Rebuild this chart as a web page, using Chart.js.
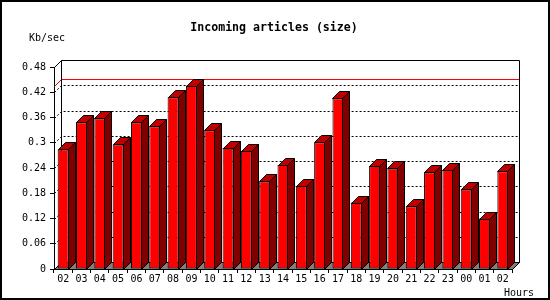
<!DOCTYPE html>
<html>
<head>
<meta charset="utf-8">
<script src="https://cdn.jsdelivr.net/npm/chart.js"></script>
<style>
  body { margin: 0; background: #fff; }
  canvas { display: block; }
</style>
</head>
<body>
<canvas id="chart" width="550" height="300"></canvas>
<script>
// hours on the x axis (02 .. 02, 25 samples)
const hours = ['02','03','04','05','06','07','08','09','10','11','12','13','14',
               '15','16','17','18','19','20','21','22','23','00','01','02'];
// incoming articles, Kb/sec
const kbPerSec = [0.284, 0.349, 0.358, 0.296, 0.349, 0.339, 0.408, 0.436, 0.330, 0.288,
                  0.281, 0.208, 0.247, 0.197, 0.301, 0.406, 0.158, 0.245, 0.239, 0.149,
                  0.230, 0.235, 0.189, 0.120, 0.232];
const yTickLabels = ['0','0.06','0.12','0.18','0.24','0.3','0.36','0.42','0.48'];

const depth = 7;
const mono = '"DejaVu Sans Mono", monospace';

function poly(ctx, pts, fill) {
  ctx.beginPath();
  ctx.moveTo(pts[0][0], pts[0][1]);
  for (let i = 1; i < pts.length; i++) ctx.lineTo(pts[i][0], pts[i][1]);
  ctx.closePath();
  if (fill) { ctx.fillStyle = fill; ctx.fill(); }
  ctx.stroke();
}

function line(ctx, pts) {
  ctx.beginPath();
  ctx.moveTo(pts[0][0], pts[0][1]);
  for (let i = 1; i < pts.length; i++) ctx.lineTo(pts[i][0], pts[i][1]);
  ctx.stroke();
}

const threeD = {
  id: 'threeD',
  beforeDatasetsDraw(chart) {
    const ctx = chart.ctx, a = chart.chartArea, y = chart.scales.y;
    const L = Math.round(a.left) + 0.5, R = Math.round(a.right) + 0.5;
    const T = Math.round(a.top) + 0.5, B = Math.round(a.bottom) + 0.5;
    ctx.save();
    ctx.lineWidth = 1;
    ctx.strokeStyle = '#000';
    // floor
    poly(ctx, [[L, B], [R, B], [R + depth, B - depth], [L + depth, B - depth]], '#808080');
    // dotted grid on the back wall
    ctx.setLineDash([2, 2]);
    y.ticks.forEach(t => {
      if (t.value <= 0 || t.value >= y.max) return;
      const py = Math.round(y.getPixelForValue(t.value)) + 0.5;
      line(ctx, [[L, py], [L + depth, py - depth], [R + depth, py - depth]]);
    });
    ctx.setLineDash([]);
    // max line
    const my = Math.round(y.getPixelForValue(Math.max(...kbPerSec))) + 0.5;
    ctx.strokeStyle = '#ff0000';
    line(ctx, [[L, my], [L + depth, my - depth], [R + depth, my - depth]]);
    // back wall frame
    ctx.strokeStyle = '#000';
    line(ctx, [[L, T], [L + depth, T - depth], [R + depth, T - depth], [R + depth, B - depth], [R, B]]);
    line(ctx, [[L + depth, T - depth], [L + depth, B - depth]]);
    ctx.restore();
  },
  afterDatasetsDraw(chart) {
    const ctx = chart.ctx;
    ctx.save();
    ctx.lineWidth = 1;
    ctx.strokeStyle = '#000';
    chart.getDatasetMeta(0).data.forEach(bar => {
      const p = bar.getProps(['x', 'y', 'base', 'width'], true);
      const l = Math.round(p.x - p.width / 2) + 0.5;
      const r = Math.round(p.x + p.width / 2) - 0.5;
      const top = Math.round(p.y) + 0.5;
      const base = Math.round(p.base) + 0.5;
      poly(ctx, [[l, top], [l + depth, top - depth], [r + depth, top - depth], [r, top]], '#c00000');
      poly(ctx, [[r, top], [r + depth, top - depth], [r + depth, base - depth], [r, base]], '#800000');
    });
    ctx.restore();
  },
  afterDraw(chart) {
    const ctx = chart.ctx;
    ctx.save();
    ctx.fillStyle = '#000';
    ctx.textBaseline = 'alphabetic';
    ctx.font = 'bold 11.6px ' + mono;
    ctx.textAlign = 'center';
    ctx.fillText('Incoming articles (size)', 274, 31);
    ctx.font = '10px ' + mono;
    ctx.textAlign = 'left';
    ctx.fillText('Kb/sec', 29, 41);
    ctx.textAlign = 'right';
    ctx.fillText('Hours', 534, 296);
    ctx.lineWidth = 2;
    ctx.strokeStyle = '#000';
    ctx.strokeRect(1, 1, 548, 298);
    ctx.restore();
  }
};

new Chart(document.getElementById('chart'), {
  type: 'bar',
  data: {
    labels: hours,
    datasets: [{
      data: kbPerSec,
      backgroundColor: '#ff0000',
      borderColor: '#000',
      borderWidth: 1,
      borderSkipped: false,
      barPercentage: 0.6,
      categoryPercentage: 1
    }]
  },
  options: {
    responsive: false,
    animation: false,
    layout: { padding: { left: 0, top: 67, right: 38, bottom: 0 } },
    plugins: { legend: { display: false }, tooltip: { enabled: false } },
    scales: {
      x: {
        afterFit: s => { s.height = 31; },
        grid: { drawOnChartArea: false, drawTicks: true, tickLength: 4, color: '#000' },
        border: { display: true, color: '#000' },
        ticks: { color: '#000', font: { family: mono, size: 10 }, padding: 0, maxRotation: 0, autoSkip: false }
      },
      y: {
        min: 0,
        max: 0.48,
        afterFit: s => { s.width = 54; },
        grid: { drawOnChartArea: false, drawTicks: true, tickLength: 4, color: '#000' },
        border: { display: true, color: '#000' },
        ticks: {
          stepSize: 0.06,
          color: '#000',
          font: { family: mono, size: 10 },
          padding: 4,
          callback: (v, i) => yTickLabels[i]
        }
      }
    }
  },
  plugins: [threeD]
});
</script>
</body>
</html>
